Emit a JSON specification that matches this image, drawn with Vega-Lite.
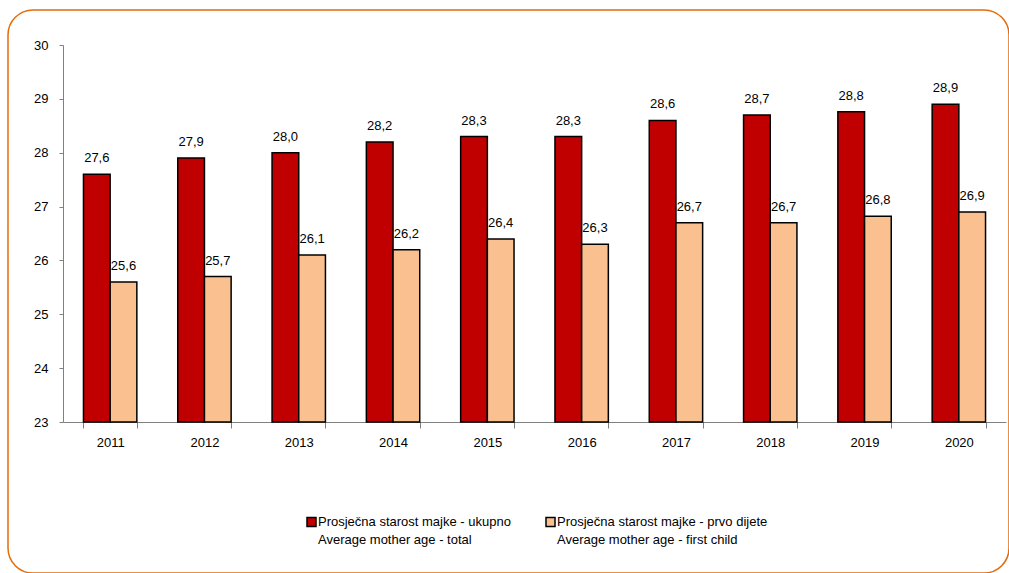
{
  "$schema": "https://vega.github.io/schema/vega-lite/v6.json",
  "width": 1001,
  "height": 563,
  "autosize": "none",
  "padding": {"left": 8, "top": 10, "right": 0, "bottom": 0},
  "config": {
    "locale": {"number": {"decimal": ",", "thousands": ".", "grouping": [3], "currency": ["", ""]}},
    "view": {"stroke": "#E46C0A", "strokeWidth": 1.5, "cornerRadius": 25},
    "font": "Liberation Sans",
    "style": {"guide-label": {"lineHeight": 17.6}}
  },
  "data": {
    "values": [
      {"year": "2011", "series": "Prosječna starost majke - ukupno", "age": 27.6},
      {"year": "2011", "series": "Prosječna starost majke - prvo dijete", "age": 25.6},
      {"year": "2012", "series": "Prosječna starost majke - ukupno", "age": 27.9},
      {"year": "2012", "series": "Prosječna starost majke - prvo dijete", "age": 25.7},
      {"year": "2013", "series": "Prosječna starost majke - ukupno", "age": 28.0},
      {"year": "2013", "series": "Prosječna starost majke - prvo dijete", "age": 26.1},
      {"year": "2014", "series": "Prosječna starost majke - ukupno", "age": 28.2},
      {"year": "2014", "series": "Prosječna starost majke - prvo dijete", "age": 26.2},
      {"year": "2015", "series": "Prosječna starost majke - ukupno", "age": 28.3},
      {"year": "2015", "series": "Prosječna starost majke - prvo dijete", "age": 26.4},
      {"year": "2016", "series": "Prosječna starost majke - ukupno", "age": 28.3},
      {"year": "2016", "series": "Prosječna starost majke - prvo dijete", "age": 26.3},
      {"year": "2017", "series": "Prosječna starost majke - ukupno", "age": 28.6},
      {"year": "2017", "series": "Prosječna starost majke - prvo dijete", "age": 26.7},
      {"year": "2018", "series": "Prosječna starost majke - ukupno", "age": 28.7},
      {"year": "2018", "series": "Prosječna starost majke - prvo dijete", "age": 26.7},
      {"year": "2019", "series": "Prosječna starost majke - ukupno", "age": 28.76},
      {"year": "2019", "series": "Prosječna starost majke - prvo dijete", "age": 26.82},
      {"year": "2020", "series": "Prosječna starost majke - ukupno", "age": 28.9},
      {"year": "2020", "series": "Prosječna starost majke - prvo dijete", "age": 26.9}
    ]
  },
  "encoding": {
    "x": {
      "field": "year",
      "type": "nominal",
      "scale": {"range": [55, 998], "paddingInner": 0.434, "paddingOuter": 0.217},
      "axis": {
        "title": null,
        "labelAngle": 0,
        "offset": -151,
        "domainColor": "#808080",
        "tickColor": "#808080",
        "tickBand": "extent",
        "tickSize": 6,
        "labelPadding": 8,
        "labelFontSize": 13,
        "labelColor": "black",
        "grid": false
      }
    },
    "xOffset": {
      "field": "series",
      "type": "nominal",
      "sort": ["Prosječna starost majke - ukupno", "Prosječna starost majke - prvo dijete"]
    },
    "y": {
      "field": "age",
      "type": "quantitative",
      "scale": {"domain": [23, 30], "range": [412, 35], "nice": false, "zero": false},
      "axis": {
        "title": null,
        "values": [23, 24, 25, 26, 27, 28, 29, 30],
        "format": "d",
        "offset": -55,
        "domainColor": "#808080",
        "tickColor": "#808080",
        "tickSize": 4,
        "labelPadding": 11,
        "labelFontSize": 13,
        "labelColor": "black",
        "grid": false
      }
    }
  },
  "layer": [
    {
      "mark": {"type": "bar", "stroke": "black", "strokeWidth": 1.5},
      "encoding": {
        "y2": {"datum": 23},
        "color": {
          "field": "series",
          "type": "nominal",
          "scale": {
            "domain": ["Prosječna starost majke - ukupno", "Prosječna starost majke - prvo dijete"],
            "range": ["#C00000", "#FAC090"]
          },
          "legend": {
            "orient": "none",
            "legendX": 297,
            "legendY": 505,
            "direction": "horizontal",
            "title": null,
            "labelExpr": "[datum.label, datum.label == 'Prosječna starost majke - ukupno' ? 'Average mother age - total' : 'Average mother age - first child']",
            "symbolType": "square",
            "symbolSize": 81,
            "symbolStrokeColor": "black",
            "symbolStrokeWidth": 1.5,
            "labelFontSize": 13,
            "labelColor": "black",
            "labelLimit": 0,
            "columnPadding": 32,
            "labelOffset": 0
          }
        }
      }
    },
    {
      "mark": {"type": "text", "dy": -12, "baseline": "alphabetic", "fontSize": 13, "color": "black"},
      "encoding": {
        "text": {"field": "age", "type": "quantitative", "format": ".1f"}
      }
    }
  ]
}
